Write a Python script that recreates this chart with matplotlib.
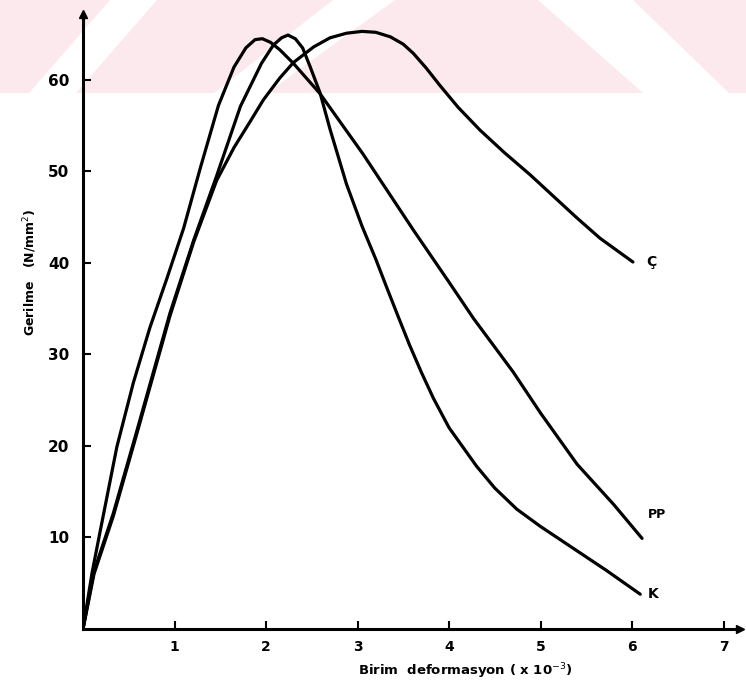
"""
Gerilme - birim deformasyon egrileri (C, PP, K).
"""

import matplotlib
matplotlib.use("Agg")
import matplotlib.pyplot as plt
from matplotlib.patches import Polygon

# Values (strain x 1e-3, stress N/mm2)
c_strain = [0, 0.12, 0.33, 0.59, 0.95, 1.21, 1.46, 1.65, 1.83, 1.97, 2.15, 2.30, 2.52,
            2.70, 2.88, 3.05, 3.20, 3.36, 3.50, 3.61, 3.75, 3.90, 4.10, 4.34, 4.60,
            4.89, 5.15, 5.40, 5.65, 6.01]
c_stress = [0, 6.0, 12.3, 21.4, 34.2, 42.3, 49.0, 52.6, 55.5, 57.8, 60.2, 61.9, 63.6,
            64.6, 65.1, 65.3, 65.2, 64.7, 63.9, 62.9, 61.3, 59.4, 57.0, 54.5, 52.1,
            49.6, 47.2, 44.9, 42.7, 40.1]

pp_strain = [0, 0.10, 0.19, 0.37, 0.55, 0.73, 0.92, 1.10, 1.28, 1.48, 1.65, 1.78,
             1.88, 1.96, 2.05, 2.15, 2.30, 2.59, 3.06, 3.61, 4.00, 4.27, 4.70, 5.00,
             5.40, 5.80, 6.11]
pp_stress = [0, 6.2, 10.8, 19.9, 26.9, 32.9, 38.4, 43.8, 50.3, 57.2, 61.4, 63.5,
             64.4, 64.5, 64.1, 63.3, 61.8, 58.5, 51.9, 43.6, 37.9, 33.9, 28.1, 23.6,
             18.0, 13.6, 9.9]

k_strain = [0, 0.12, 0.33, 0.59, 0.95, 1.21, 1.46, 1.72, 1.95, 2.08, 2.17, 2.24, 2.32,
            2.40, 2.48, 2.59, 2.70, 2.88, 3.05, 3.20, 3.32, 3.45, 3.57, 3.70, 3.83,
            4.00, 4.30, 4.50, 4.74, 5.00, 5.21, 5.45, 5.72, 6.09]
k_stress = [0, 6.3, 12.6, 21.7, 34.5, 42.5, 49.5, 57.1, 61.8, 63.8, 64.6, 64.9, 64.5,
            63.5, 61.5, 58.6, 54.6, 48.6, 44.0, 40.4, 37.3, 34.0, 31.0, 28.0, 25.2,
            22.0, 17.8, 15.4, 13.1, 11.2, 9.8, 8.2, 6.4, 3.8]

curve_names = ["Ç", "PP", "K"]
x_ticks = [1, 2, 3, 4, 5, 6, 7]
y_ticks = [10, 20, 30, 40, 50, 60]

W, H = 746, 688


def px(x, y):
    # pixel (from top-left) -> figure fraction
    return (x / W, 1 - y / H)


def draw_watermark(fig):
    pink = "#fce9ed"
    band = [px(0, 0), px(W, 0), px(W, 93), px(0, 93)]
    fig.patches.append(Polygon(band, closed=True, transform=fig.transFigure,
                               facecolor=pink, edgecolor="none", zorder=-2))
    stripes = [
        [(110, 0), (157, 0), (76, 93), (29, 93)],
        [(333, 0), (395, 0), (267, 93), (214, 93)],
        [(538, 0), (633, 0), (729, 93), (643, 93)],
    ]
    for s in stripes:
        fig.patches.append(Polygon([px(*p) for p in s], closed=True,
                                   transform=fig.transFigure, facecolor="white",
                                   edgecolor="none", zorder=-1))


fig = plt.figure(figsize=(7.46, 6.88), dpi=100)
fig.patch.set_facecolor("white")
draw_watermark(fig)

ax = fig.add_axes([83 / W, (H - 629) / H, (740 - 83) / W, (629 - 14) / H])
ax.patch.set_visible(False)
ax.set_xlim(0, 7.18)
ax.set_ylim(0, 67.2)

lw = 2.3
style = dict(color="black", lw=lw, solid_capstyle="round", solid_joinstyle="round")
ax.plot(c_strain, c_stress, **style)
ax.plot(pp_strain, pp_stress, **style)
ax.plot(k_strain, k_stress, **style)

ax.text(c_strain[-1] + 0.14, c_stress[-1], curve_names[0], fontsize=10, fontweight="bold",
        va="center", ha="left")
ax.text(pp_strain[-1] + 0.06, pp_stress[-1] + 2.6, curve_names[1], fontsize=9, fontweight="bold",
        va="center", ha="left")
ax.text(k_strain[-1] + 0.08, k_stress[-1], curve_names[2], fontsize=10, fontweight="bold",
        va="center", ha="left")

for side in ["top", "right"]:
    ax.spines[side].set_visible(False)
for side in ["left", "bottom"]:
    ax.spines[side].set_linewidth(2.2)

# arrow heads at the axis ends
ax.plot(1, 0, ">k", transform=ax.transAxes, clip_on=False, markersize=6)
ax.plot(0, 1, "^k", transform=ax.transAxes, clip_on=False, markersize=6)

ax.set_xticks(x_ticks)
ax.set_yticks(y_ticks)
ax.set_xticklabels([str(t) for t in x_ticks], fontweight="bold", fontsize=10)
ax.set_yticklabels([str(t) for t in y_ticks], fontweight="bold", fontsize=11)
ax.tick_params(axis="both", direction="in", length=6, width=1.5, pad=8)
ax.tick_params(axis="y", pad=10)

fig.text(465 / W, 1 - 671 / H, "Birim  deformasyon ( x 10$^{-3}$)", ha="center", va="center",
         fontsize=9.5, fontweight="bold")
fig.text(30 / W, 1 - 272 / H, "Gerilme   (N/mm$^2$)", ha="center", va="center", rotation=90,
         fontsize=9, fontweight="bold")

fig.savefig("out.png", dpi=100)
